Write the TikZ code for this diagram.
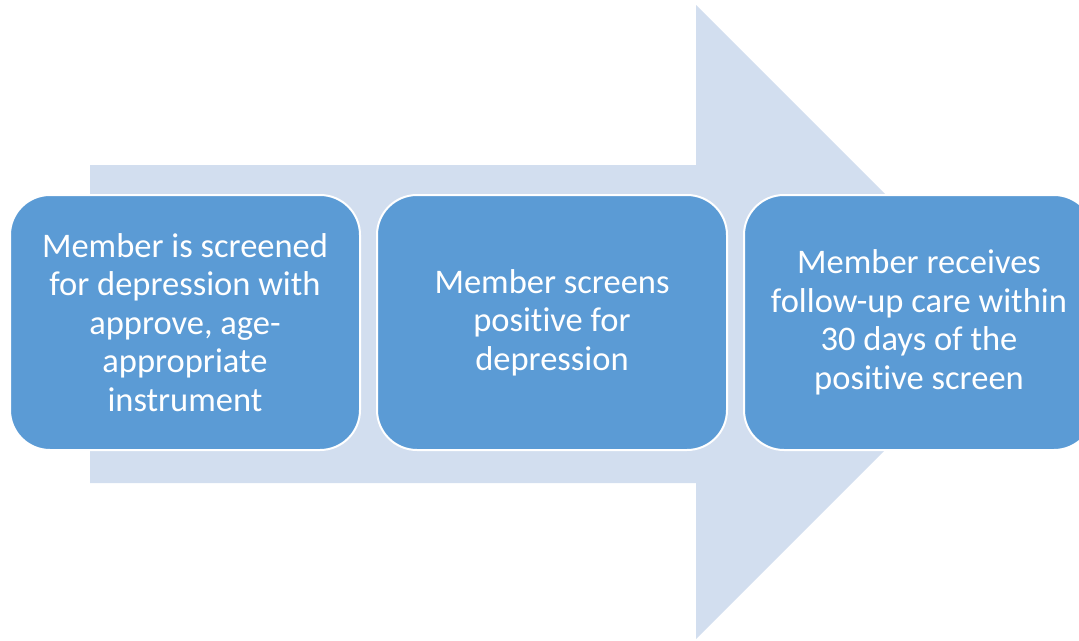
\documentclass[tikz,border=0pt]{standalone}
\usepackage{fontspec}
\setmainfont{Carlito}[Ligatures=NoCommon]
\usetikzlibrary{positioning}

\definecolor{stepblue}{HTML}{5B9BD5}
\definecolor{arrowblue}{HTML}{D2DEEF}

\begin{document}
\begin{tikzpicture}[x=1pt, y=-1pt,
    stagebox/.style={fill=stepblue, draw=white, line width=2pt,
    rounded corners=40pt, minimum width=350pt, minimum height=255pt,
    outer sep=0pt, inner sep=0pt, align=center, text=white,
    font=\fontsize{34.5}{38.5}\selectfont},
    ]
    \useasboundingbox (0,0) rectangle (1079,640);

    % background arrow
    \fill[arrowblue] (90,165) -- (696,165) -- (696,5) -- (1013,322)
        -- (696,639) -- (696,483) -- (90,483) -- cycle;

    \node[stagebox] (scr) at (185,322.5) {Member is screened\\for depression with\\approve, age-\\appropriate\\instrument};
    \node[stagebox, right=17pt of scr] (pos) {Member screens\\positive for\\depression};
    \node[stagebox, right=17pt of pos] (fol) {Member receives\\follow-up care within\\30 days of the\\positive screen};
\end{tikzpicture}
\end{document}
